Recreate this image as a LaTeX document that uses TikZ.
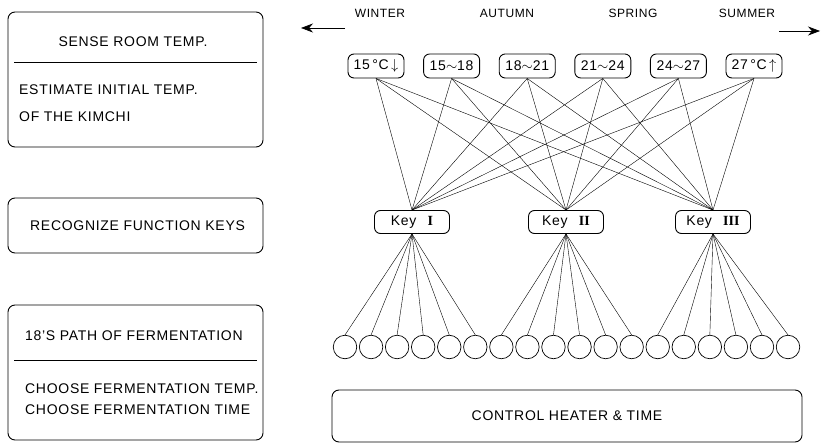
\documentclass[tikz,border=0pt]{standalone}
\usepackage{fontspec}
\setmainfont{Liberation Sans}[LetterSpace=5]
\newfontfamily\romanfont{Liberation Serif}
\usetikzlibrary{arrows.meta}
\tikzset{>=latex}
\tikzset{
  roundbox/.style={draw,line width=0.9pt,rounded corners=7pt},
  tempbox/.style={draw,line width=0.9pt,rounded corners=6pt,
                  minimum width=56pt,minimum height=24pt,inner sep=0pt},
  keybox/.style={tempbox,minimum width=75pt,minimum height=23pt},
  cell/.style={draw,circle,line width=0.7pt,minimum size=23.5pt,inner sep=0pt},
  link/.style={line width=0.4pt},
  txt/.style={inner sep=0pt,anchor=west},
  season/.style={font=\fontsize{12}{14}\selectfont},
  season arrow/.style={line width=0.7pt,-{Stealth[length=12pt,width=9pt]}}}
\newcommand\keylabel[1]{Key\hspace{0.8em}{\romanfont\bfseries #1}}

\begin{document}
\begin{tikzpicture}[x=1pt,y=-1pt,font=\fontsize{14}{16}\selectfont]
  \useasboundingbox (0,0) rectangle (821,443);
  \def\dx{75.6}   % spacing of temperature boxes
  \def\cx{26.06}  % spacing of cells

  % LEFT BOXES
  \draw[roundbox] (8,12) rectangle (263,147);
  \draw[line width=0.8pt] (14,62) -- (257,62);
  \node (sense) at (133,42) {SENSE ROOM TEMP.};
  \node[txt] (estimate) at (19,90) {ESTIMATE INITIAL TEMP.};
  \node[txt] (kimchi) at (19,117) {OF THE KIMCHI};

  \draw[roundbox] (8,198) rectangle (263,253);
  \node[txt] (recog) at (30,226) {RECOGNIZE FUNCTION KEYS};

  \draw[roundbox] (8,305) rectangle (263,440);
  \draw[line width=0.8pt] (14,360) -- (257,360);
  \node[txt] (path) at (25,336) {18'S PATH OF FERMENTATION};
  \node[txt] (ctemp) at (25,389) {CHOOSE FERMENTATION TEMP.};
  \node[txt] (ctime) at (25,410) {CHOOSE FERMENTATION TIME};

  % SEASONS
  \node[season] (winter) at (380,13) {WINTER};
  \node[season] (autumn) at (507,13) {AUTUMN};
  \node[season] (spring) at (633,13) {SPRING};
  \node[season] (summer) at (747,13) {SUMMER};
  \coordinate (wA) at (345,28);
  \coordinate (wB) at (301,28);
  \coordinate (sA) at (779,31);
  \coordinate (sB) at (820,31);
  \draw[season arrow] (wA) -- (wB);
  \draw[season arrow] (sA) -- (sB);

  % TEMPERATURES
  \foreach \lab [count=\i] in {{15\,°C\,$\downarrow$},15$\sim$18,18$\sim$21,
                               21$\sim$24,24$\sim$27,{27\,°C\,$\uparrow$}}
    \node[tempbox] (t\i) at ({376+\dx*(\i-1)},66) {\lab};

  % KEYS
  \node[keybox] (k1) at (412,222) {\keylabel{I}};
  \node[keybox] (k2) at (566,222) {\keylabel{II}};
  \node[keybox] (k3) at (713,222) {\keylabel{III}};

  % CELLS
  \foreach \j in {1,...,18}
    \node[cell] (c\j) at ({345+\cx*(\j-1)},347) {};

  % LINKS
  \foreach \i in {1,...,6}
    \foreach \k in {1,2,3}
      \draw[link] (t\i.south) -- (k\k.north);
  \foreach \k in {1,2,3}
    \foreach \m in {1,...,6}{
      \pgfmathtruncatemacro\j{6*(\k-1)+\m}
      \draw[link] (k\k.south) -- (c\j.north);
    }

  % CONTROL
  \draw[roundbox] (332,390) rectangle (802,442);
  \node (control) at (567,416) {CONTROL HEATER \& TIME};
\end{tikzpicture}
\end{document}
